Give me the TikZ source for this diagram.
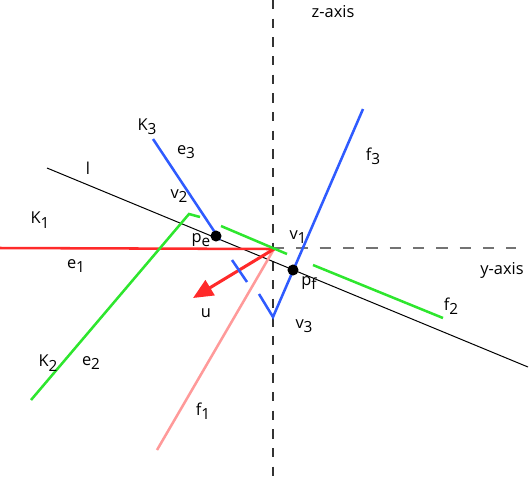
\documentclass[tikz,border=0pt]{standalone}
\usepackage{fontspec}
\setmainfont{Open Sans}
\usetikzlibrary{arrows.meta}
\definecolor{cred}{HTML}{FF2A2A}
\definecolor{cpink}{HTML}{FF9A9A}
\definecolor{cgreen}{HTML}{2EE62E}
\definecolor{cblue}{HTML}{2F5BFF}
\newcommand\mysub[1]{\raisebox{-0.5ex}{\fontsize{11.5}{13}\selectfont #1}}
\begin{document}
\begin{tikzpicture}[x=0.75pt,y=-0.75pt,
  lab/.style={font=\fontsize{12.3}{14}\selectfont, inner sep=0pt},
  dot/.style={circle,fill=black,inner sep=0pt,minimum size=8.3pt},
  colline/.style={line width=1.9pt}]
\useasboundingbox (0,0) rectangle (530,476);
% axes
\coordinate (zt) at (273,0); \coordinate (zb) at (273,476);
\coordinate (o) at (273,248);
\coordinate (ye) at (516,248);
\draw[black!80,line width=0.9pt,dash pattern=on 7pt off 7pt] (zt) -- (zb);
\draw[black!55,line width=0.9pt,dash pattern=on 8.5pt off 9pt] (o) -- (ye);
% line l
\coordinate (l1) at (47,168); \coordinate (l2) at (528,367);
\draw[black,line width=0.75pt] (l1) -- (l2);
% red e1 and arrow u
\coordinate (e1s) at (0,248);
\coordinate (o2) at (274,249);
\coordinate (ut) at (193,298);
\coordinate (f1e) at (157,450);
\draw[cpink,colline] (o2) -- (f1e);
\draw[cred,colline] (e1s) -- (o2);
\draw[cred,line width=2.3pt,-{Triangle[length=15pt,width=13pt]}] (o2) -- (ut);
% green
\coordinate (g1) at (31,400); \coordinate (g2) at (189,214); \coordinate (g3) at (200,217);
\coordinate (g4) at (221,226); \coordinate (g5) at (287,254);
\coordinate (g6) at (313,265); \coordinate (g7) at (443,318);
\draw[cgreen,colline] (g1) -- (g2) -- (g3);
\draw[cgreen,colline] (g4) -- (g5);
\draw[cgreen,colline] (g6) -- (g7);
% blue
\coordinate (b1) at (153,139); \coordinate (b2) at (220,240);
\coordinate (b3) at (232,260); \coordinate (b4) at (247,282);
\coordinate (b5) at (259,294); \coordinate (b6) at (273,317); \coordinate (b7) at (363,109);
\draw[cblue,colline] (b1) -- (b2);
\draw[cblue,colline] (b3) -- (b4);
\draw[cblue,colline] (b5) -- (b6) -- (b7);
% dots
\node[dot] (pe) at (216,236) {};
\node[dot] (pf) at (293,270) {};
% labels
\node[lab] (zax) at (333,12) {z-axis};
\node[lab] (yax) at (502,270) {y-axis};
\node[lab] (ll) at (88,168) {l};
\node[lab] (K1) at (40,220) {K\mysub{1}};
\node[lab] (e1) at (76,266) {e\mysub{1}};
\node[lab] (K2) at (48,363) {K\mysub{2}};
\node[lab] (e2) at (91,363) {e\mysub{2}};
\node[lab] (K3) at (147,127) {K\mysub{3}};
\node[lab] (e3) at (186,152) {e\mysub{3}};
\node[lab] (v2) at (179,196) {v\mysub{2}};
\node[lab] (pel) at (201,240) {p\mysub{e}};
\node[lab] (v1) at (298,237) {v\mysub{1}};
\node[lab] (pfl) at (309,283) {p\mysub{f}};
\node[lab] (v3) at (304,326) {v\mysub{3}};
\node[lab] (ul) at (206,313) {u};
\node[lab] (f1) at (203,411) {f\mysub{1}};
\node[lab] (f2) at (451,306) {f\mysub{2}};
\node[lab] (f3) at (373,156) {f\mysub{3}};
\end{tikzpicture}
\end{document}
